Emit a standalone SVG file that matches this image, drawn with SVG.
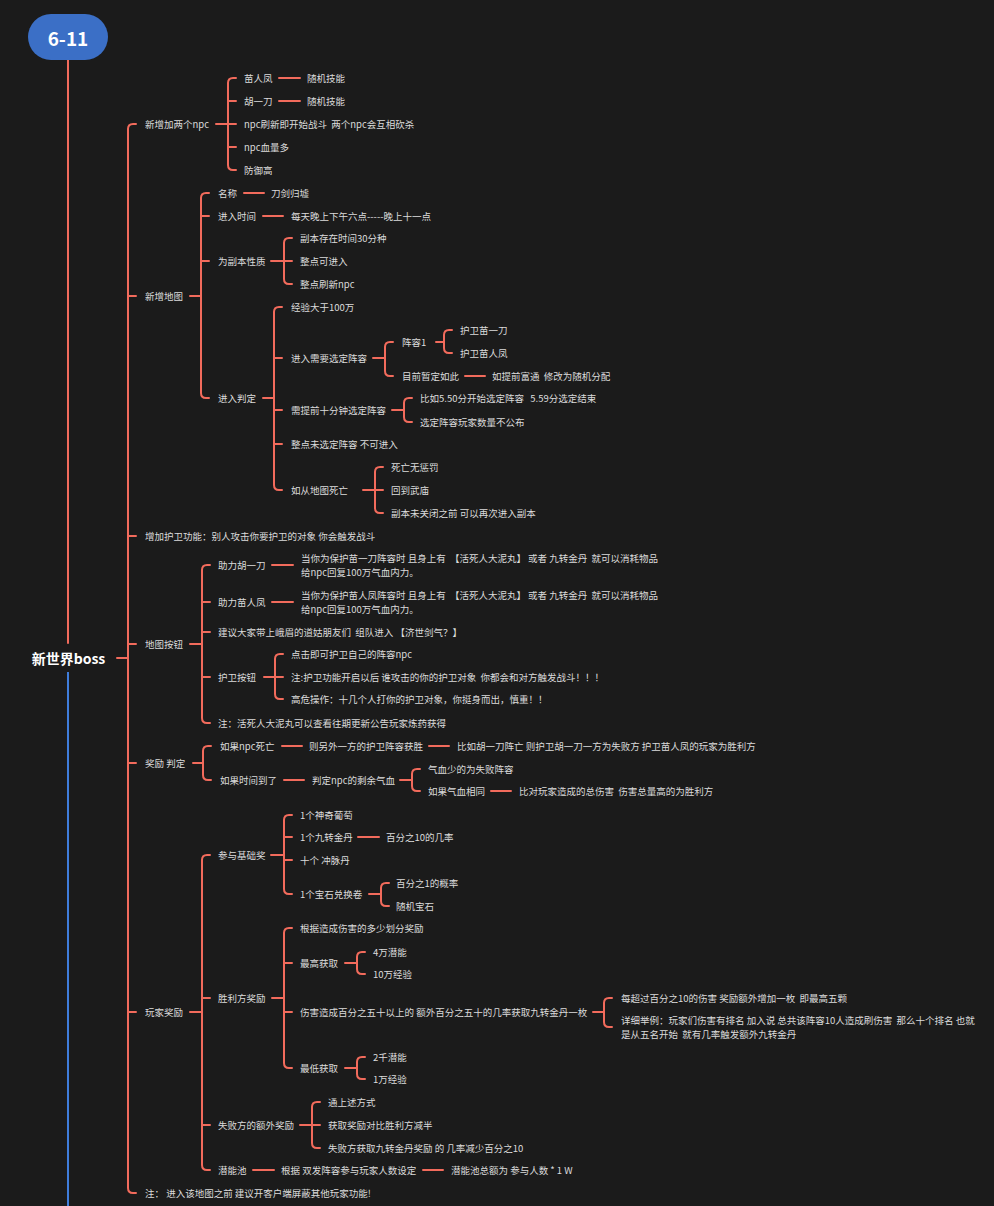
<svg xmlns="http://www.w3.org/2000/svg" width="994" height="1206" viewBox="0 0 994 1206">
<style>
.c{fill:none;stroke:#f26b5c;stroke-width:2;stroke-linecap:round;stroke-linejoin:round}
.t{font-family:"Noto Sans CJK SC","Noto Sans","Liberation Sans",sans-serif;font-size:9.5px;fill:#dcdcdc;dominant-baseline:central;white-space:pre}
.b{font-family:"Noto Sans CJK SC","Noto Sans","Liberation Sans",sans-serif;font-weight:bold;fill:#ffffff;dominant-baseline:central;text-anchor:middle}
</style>
<rect x="0" y="0" width="994" height="1206" fill="#1b1b1b"/>
<g id="connectors">
<path class="c" d="M68 60 V643"/>
<path d="M68 672 V1206" fill="none" stroke="#3f7ddb" stroke-width="2"/>
<path class="c" d="M117 658 H128"/>
<path class="c" d="M136 124 H133 Q128 124 128 129 V1188 Q128 1193 133 1193 H136 M128 296 H136 M128 536 H136 M128 644 H136 M128 763 H136 M128 1012 H136"/>
<path class="c" d="M216 124 H228 M236 78 H233 Q228 78 228 83 V165 Q228 170 233 170 H236 M228 101 H236 M228 124 H236 M228 147 H236"/>
<path class="c" d="M279 78 H300 M279 101 H300"/>
<path class="c" d="M190 296 H201 M209 193 H206 Q201 193 201 198 V393 Q201 398 206 398 H209 M201 216 H209 M201 261 H209"/>
<path class="c" d="M244 193 H264 M263 216 H283"/>
<path class="c" d="M271 261 H284 M292 238 H289 Q284 238 284 243 V279 Q284 284 289 284 H292 M284 261 H292"/>
<path class="c" d="M263 398 H274 M282 307 H279 Q274 307 274 312 V485 Q274 490 279 490 H282 M274 358 H282 M274 410 H282 M274 444 H282"/>
<path class="c" d="M373 358 H385 M393 342 H390 Q385 342 385 347 V371 Q385 376 390 376 H393"/>
<path class="c" d="M436 342 H444 M452 330 H449 Q444 330 444 335 V348 Q444 353 449 353 H452"/>
<path class="c" d="M465 376 H485"/>
<path class="c" d="M392 410 H404 M412 398 H409 Q404 398 404 403 V417 Q404 422 409 422 H412"/>
<path class="c" d="M363 490 H375 M383 467 H380 Q375 467 375 472 V508 Q375 513 380 513 H383 M375 490 H383"/>
<path class="c" d="M190 644 H202 M210 565 H207 Q202 565 202 570 V718 Q202 723 207 723 H210 M202 602 H210 M202 632 H210 M202 677 H210"/>
<path class="c" d="M272 565 H293 M272 602 H293"/>
<path class="c" d="M264 677 H275 M283 654 H280 Q275 654 275 659 V694 Q275 699 280 699 H283 M275 677 H283"/>
<path class="c" d="M193 763 H203 M211 746 H208 Q203 746 203 751 V775 Q203 780 208 780 H211"/>
<path class="c" d="M282 746 H302 M429 746 H449 M284 780 H304"/>
<path class="c" d="M400 780 H412 M420 769 H417 Q412 769 412 774 V786 Q412 791 417 791 H420 M491 791 H511"/>
<path class="c" d="M190 1012 H202 M210 855 H207 Q202 855 202 860 V1165 Q202 1170 207 1170 H210 M202 998 H210 M202 1125 H210"/>
<path class="c" d="M271 855 H284 M292 815 H289 Q284 815 284 820 V889 Q284 894 289 894 H292 M284 837 H292 M284 860 H292"/>
<path class="c" d="M358 837 H379"/>
<path class="c" d="M369 894 H381 M389 883 H386 Q381 883 381 888 V901 Q381 906 386 906 H389"/>
<path class="c" d="M272 998 H284 M292 928 H289 Q284 928 284 933 V1063 Q284 1068 289 1068 H292 M284 963 H292 M284 1012 H292"/>
<path class="c" d="M345 963 H357 M365 952 H362 Q357 952 357 957 V969 Q357 974 362 974 H365"/>
<path class="c" d="M593 1012 H604 M612 998 H609 Q604 998 604 1003 V1022 Q604 1027 609 1027 H612"/>
<path class="c" d="M345 1068 H357 M365 1057 H362 Q357 1057 357 1062 V1074 Q357 1079 362 1079 H365"/>
<path class="c" d="M300 1125 H312 M320 1102 H317 Q312 1102 312 1107 V1143 Q312 1148 317 1148 H320 M312 1125 H320"/>
<path class="c" d="M253 1170 H274 M423 1170 H443"/>
</g>
<g id="title">
<rect x="28" y="14" width="80" height="46" rx="23" fill="#3b6fc6"/>
<text class="b" x="68" y="37" font-size="19">6-11</text>
</g>
<g id="root"><text class="b" x="68.5" y="658" font-size="14">新世界boss</text></g>
<g id="n1">
<text class="t" x="145" y="124">新增加两个npc</text>
<g id="n1-1"><text class="t" x="244" y="78">苗人凤</text><text class="t" x="307" y="78">随机技能</text></g>
<g id="n1-2"><text class="t" x="244" y="101">胡一刀</text><text class="t" x="307" y="101">随机技能</text></g>
<g id="n1-3"><text class="t" x="244" y="124">npc刷新即开始战斗  两个npc会互相砍杀</text></g>
<g id="n1-4"><text class="t" x="244" y="147">npc血量多</text></g>
<g id="n1-5"><text class="t" x="244" y="170">防御高</text></g>
</g>
<g id="n2">
<text class="t" x="145" y="296">新增地图</text>
<g id="n2-1"><text class="t" x="218" y="193">名称</text><text class="t" x="271" y="193">刀剑归墟</text></g>
<g id="n2-2"><text class="t" x="218" y="216">进入时间</text><text class="t" x="291" y="216">每天晚上下午六点-----晚上十一点</text></g>
<g id="n2-3"><text class="t" x="218" y="261">为副本性质</text>
<text class="t" x="300" y="238">副本存在时间30分种</text>
<text class="t" x="300" y="261">整点可进入</text>
<text class="t" x="300" y="284">整点刷新npc</text></g>
<g id="n2-4"><text class="t" x="218" y="398">进入判定</text>
<text class="t" x="291" y="307">经验大于100万</text>
<g id="n2-4-2"><text class="t" x="291" y="358">进入需要选定阵容</text>
<text class="t" x="402" y="342">阵容1</text>
<text class="t" x="460" y="330">护卫苗一刀</text>
<text class="t" x="460" y="353">护卫苗人凤</text>
<text class="t" x="402" y="376">目前暂定如此</text>
<text class="t" x="492" y="376">如提前富通  修改为随机分配</text></g>
<g id="n2-4-3"><text class="t" x="291" y="410">需提前十分钟选定阵容</text>
<text class="t" x="420" y="398">比如5.50分开始选定阵容   5.59分选定结束</text>
<text class="t" x="420" y="422">选定阵容玩家数量不公布</text></g>
<text class="t" x="291" y="444">整点未选定阵容 不可进入</text>
<g id="n2-4-5"><text class="t" x="291" y="490">如从地图死亡</text>
<text class="t" x="391" y="467">死亡无惩罚</text>
<text class="t" x="391" y="490">回到武庙</text>
<text class="t" x="391" y="513">副本未关闭之前 可以再次进入副本</text></g>
</g>
</g>
<g id="n3"><text class="t" x="145" y="536">增加护卫功能：别人攻击你要护卫的对象 你会触发战斗</text></g>
<g id="n4">
<text class="t" x="145" y="644">地图按钮</text>
<g id="n4-1"><text class="t" x="218" y="565">助力胡一刀</text>
<text class="t" x="301" y="558">当你为保护苗一刀阵容时 且身上有  【活死人大泥丸】 或者 九转金丹  就可以消耗物品</text>
<text class="t" x="301" y="572">给npc回复100万气血内力。</text></g>
<g id="n4-2"><text class="t" x="218" y="602">助力苗人凤</text>
<text class="t" x="301" y="595">当你为保护苗人凤阵容时 且身上有  【活死人大泥丸】 或者 九转金丹  就可以消耗物品</text>
<text class="t" x="301" y="609">给npc回复100万气血内力。</text></g>
<g id="n4-3"><text class="t" x="218" y="632">建议大家带上峨眉的道姑朋友们  组队进入 【济世剑气？】</text></g>
<g id="n4-4"><text class="t" x="218" y="677">护卫按钮</text>
<text class="t" x="291" y="654">点击即可护卫自己的阵容npc</text>
<text class="t" x="291" y="677">注:护卫功能开启以后 谁攻击的你的护卫对象  你都会和对方触发战斗！！！</text>
<text class="t" x="291" y="699">高危操作：十几个人打你的护卫对象，你挺身而出，慎重！！</text></g>
<g id="n4-5"><text class="t" x="218" y="723">注：活死人大泥丸可以查看往期更新公告玩家炼药获得</text></g>
</g>
<g id="n5">
<text class="t" x="145" y="763">奖励 判定</text>
<g id="n5-1"><text class="t" x="220" y="746">如果npc死亡</text>
<text class="t" x="309" y="746">则另外一方的护卫阵容获胜</text>
<text class="t" x="457" y="746">比如胡一刀阵亡 则护卫胡一刀一方为失败方 护卫苗人凤的玩家为胜利方</text></g>
<g id="n5-2"><text class="t" x="220" y="780">如果时间到了</text>
<text class="t" x="312" y="780">判定npc的剩余气血</text>
<text class="t" x="428" y="769">气血少的为失败阵容</text>
<text class="t" x="428" y="791">如果气血相同</text>
<text class="t" x="519" y="791">比对玩家造成的总伤害  伤害总量高的为胜利方</text></g>
</g>
<g id="n6">
<text class="t" x="145" y="1012">玩家奖励</text>
<g id="n6-1"><text class="t" x="218" y="855">参与基础奖</text>
<text class="t" x="300" y="815">1个神奇葡萄</text>
<text class="t" x="300" y="837">1个九转金丹</text>
<text class="t" x="386" y="837">百分之10的几率</text>
<text class="t" x="300" y="860">十个 冲脉丹</text>
<text class="t" x="300" y="894">1个宝石兑换卷</text>
<text class="t" x="396" y="883">百分之1的概率</text>
<text class="t" x="396" y="906">随机宝石</text></g>
<g id="n6-2"><text class="t" x="218" y="998">胜利方奖励</text>
<text class="t" x="300" y="928">根据造成伤害的多少划分奖励</text>
<text class="t" x="300" y="963">最高获取</text>
<text class="t" x="373" y="952">4万潜能</text>
<text class="t" x="373" y="974">10万经验</text>
<text class="t" x="300" y="1012">伤害造成百分之五十以上的 额外百分之五十的几率获取九转金丹一枚</text>
<text class="t" x="621" y="998">每超过百分之10的伤害 奖励额外增加一枚  即最高五颗</text>
<text class="t" x="621" y="1020">详细举例：玩家们伤害有排名 加入说 总共该阵容10人造成刷伤害  那么十个排名 也就</text>
<text class="t" x="621" y="1034">是从五名开始  就有几率触发额外九转金丹</text>
<text class="t" x="300" y="1068">最低获取</text>
<text class="t" x="373" y="1057">2千潜能</text>
<text class="t" x="373" y="1079">1万经验</text></g>
<g id="n6-3"><text class="t" x="218" y="1125">失败方的额外奖励</text>
<text class="t" x="328" y="1102">通上述方式</text>
<text class="t" x="328" y="1125">获取奖励对比胜利方减半</text>
<text class="t" x="328" y="1148">失败方获取九转金丹奖励 的 几率减少百分之10</text></g>
<g id="n6-4"><text class="t" x="218" y="1170">潜能池</text>
<text class="t" x="281" y="1170">根据 双发阵容参与玩家人数设定</text>
<text class="t" x="451" y="1170">潜能池总额为 参与人数 * 1 W</text></g>
</g>
<g id="n7"><text class="t" x="145" y="1193">注： 进入该地图之前 建议开客户端屏蔽其他玩家功能!</text></g>
</svg>
